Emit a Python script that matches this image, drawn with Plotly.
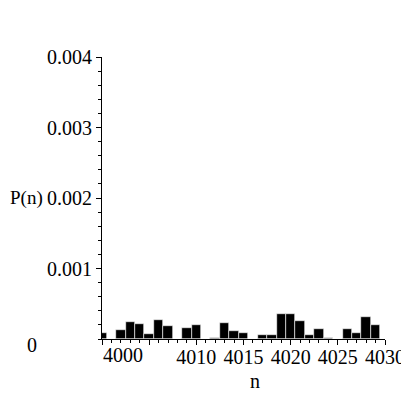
import plotly.graph_objects as go

# probability P(n) per integer n
n_values = list(range(4000, 4030))
p_values = [0.00009, 0.0, 0.000128, 0.000246, 0.000213, 0.000071, 0.00027,
            0.000189, 0.0, 0.000151, 0.000199, 0.0, 0.00002, 0.000222,
            0.000113, 0.00008, 0.0, 0.000052, 0.000052, 0.00035, 0.00035,
            0.00026, 0.000052, 0.000137, 0.00001, 0.0, 0.000137, 0.00009,
            0.000317, 0.000199]

x_tickvals = [4000, 4005, 4010, 4015, 4020, 4025, 4030]
x_ticktext = ["", "", "4010", "4015", "4020", "4025", "4030"]
y_tickvals = [0.001, 0.002, 0.003, 0.004]
y_ticktext = ["0.001", "0.002", "0.003", "0.004"]

FONT = "Liberation Serif"
tick_font = dict(family=FONT, size=20, color="black")

fig = go.Figure()
fig.add_trace(go.Bar(x=n_values, y=p_values, width=1,
                     marker_color="black",
                     marker_line=dict(color="white", width=0.6)))

# page body adds ~8px, so margins are shifted to land the axes where Maple had them
fig.update_layout(
    width=401, height=401,
    margin=dict(l=94, r=24, t=49, b=70, autoexpand=False),
    paper_bgcolor="white", plot_bgcolor="white",
    showlegend=False, bargap=0,
    font=dict(family=FONT, size=20, color="black"),
)
fig.update_xaxes(range=[4000, 4030], showgrid=False, zeroline=False,
                 automargin=False,
                 showline=True, linecolor="black", linewidth=1,
                 ticks="outside", ticklen=5, tickcolor="black",
                 tickvals=x_tickvals, ticktext=x_ticktext,
                 tickfont=tick_font,
                 ticklabelstandoff=-5,
                 minor=dict(ticks="outside", ticklen=3, dtick=1,
                            tickcolor="black"))
fig.update_yaxes(range=[0, 0.004], showgrid=False, zeroline=False,
                 automargin=False,
                 showline=True, linecolor="black", linewidth=1,
                 ticks="outside", ticklen=5, tickcolor="black",
                 tickvals=y_tickvals, ticktext=y_ticktext,
                 tickfont=tick_font,
                 minor=dict(ticks="outside", ticklen=3, dtick=0.0002,
                            tickcolor="black"))

# labels Maple places off their tick positions
fig.add_annotation(x=0.074, y=-0.057, xref="paper", yref="paper",
                   text="4000", showarrow=False, font=tick_font,
                   xanchor="center", yanchor="middle")
fig.add_annotation(x=-0.247, y=-0.021, xref="paper", yref="paper",
                   text="0", showarrow=False, xanchor="center",
                   yanchor="middle")
fig.add_annotation(x=-0.332, y=0.5, xref="paper", yref="paper",
                   text="P(n)", showarrow=False, xanchor="left",
                   yanchor="middle", font=dict(family=FONT, size=19))
fig.add_annotation(x=0.54, y=-0.149, xref="paper", yref="paper",
                   text="n", showarrow=False, xanchor="center",
                   yanchor="middle")

fig.write_html("out.html")
